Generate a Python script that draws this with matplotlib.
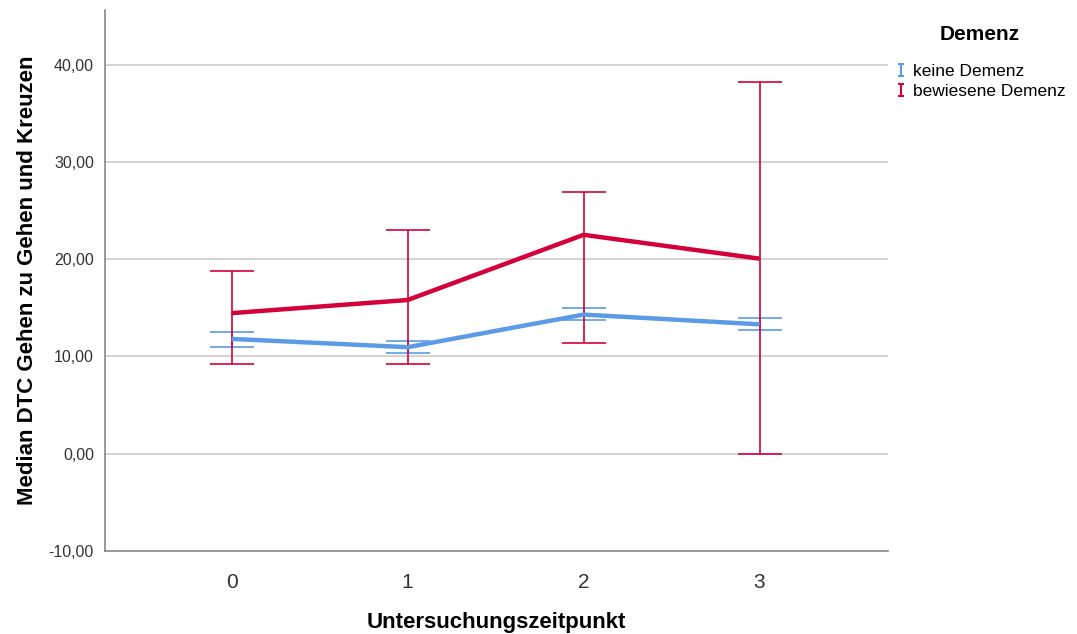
import matplotlib.pyplot as plt
import numpy as np
from matplotlib.lines import Line2D
from matplotlib.path import Path

plt.rcParams['font.family'] = ['Liberation Sans', 'DejaVu Sans']

# data
zeitpunkte = [0, 1, 2, 3]
keine_mean = [11.8, 10.95, 14.3, 13.3]
keine_low = [10.95, 10.35, 13.75, 12.7]
keine_high = [12.5, 11.6, 15.0, 13.95]
bewiesen_mean = [14.45, 15.8, 22.5, 20.05]
bewiesen_low = [9.25, 9.25, 11.4, 0.0]
bewiesen_high = [18.75, 22.95, 26.9, 38.2]
y_ticks = [-10, 0, 10, 20, 30, 40]

blue = '#5b9be6'
red = '#d3003a'

def main():
    fig = plt.figure(figsize=(10.77, 6.34), dpi=100)
    ax = fig.add_axes([0.0975, 0.131, 0.727, 0.853])

    x = np.array(zeitpunkte)
    for mean, low, high, col in [(keine_mean, keine_low, keine_high, blue),
                                 (bewiesen_mean, bewiesen_low, bewiesen_high, red)]:
        mean = np.array(mean)
        yerr = [mean - np.array(low), np.array(high) - mean]
        ax.errorbar(x, mean, yerr=yerr, fmt='none', ecolor=col, elinewidth=1.4,
                    capsize=15.5, capthick=1.4, alpha=0.85, zorder=3)
        ax.plot(x, mean, color=col, lw=3.2, zorder=4, solid_capstyle='butt')

    ax.set_xlim(-0.72, 3.73)
    ax.set_ylim(-10, 45.6)
    ax.set_xticks(zeitpunkte)
    ax.set_xticklabels([str(z) for z in zeitpunkte], fontsize=15, color='#333333')
    ax.set_yticks(y_ticks)
    ax.set_yticklabels([f"{v:.2f}".replace('.', ',') for v in y_ticks],
                       fontsize=11.5, color='#333333')
    ax.tick_params(axis='y', length=0, pad=8)
    ax.tick_params(axis='x', length=0, pad=16)
    for v in y_ticks[1:]:
        ax.axhline(v, color='#d0d0d0', lw=1.3, zorder=1)
    ax.spines['top'].set_visible(False)
    ax.spines['right'].set_visible(False)
    ax.spines['left'].set_color('#888888')
    ax.spines['bottom'].set_color('#888888')
    ax.spines['left'].set_linewidth(1.2)
    ax.spines['bottom'].set_linewidth(1.2)

    ax.set_xlabel('Untersuchungszeitpunkt', fontsize=16, fontweight='bold', labelpad=14)
    ax.set_ylabel('Median DTC Gehen zu Gehen und Kreuzen', fontsize=16,
                  fontweight='bold', labelpad=8)

    # error bar symbol for the legend
    ibar = Path([(-0.5, -1), (0.5, -1), (0, -1), (0, 1), (-0.5, 1), (0.5, 1)],
                [Path.MOVETO, Path.LINETO, Path.MOVETO, Path.LINETO, Path.MOVETO, Path.LINETO])
    handles = [Line2D([], [], color=blue, marker=ibar, linestyle='none', markersize=9,
                      markeredgewidth=1.5, markerfacecolor='none'),
               Line2D([], [], color=red, marker=ibar, linestyle='none', markersize=9,
                      markeredgewidth=1.5, markerfacecolor='none')]
    leg = fig.legend(handles, ['keine Demenz', 'bewiesene Demenz'], title='Demenz',
                     loc='upper left', bbox_to_anchor=(0.816, 0.985), frameon=False,
                     fontsize=12.5, title_fontproperties={'weight': 'bold', 'size': 15},
                     handletextpad=0.25, handlelength=0.8, labelspacing=0.3)
    leg._legend_box.sep = 14

    fig.savefig('out.png', dpi=100)

if __name__ == "__main__":
    main()
